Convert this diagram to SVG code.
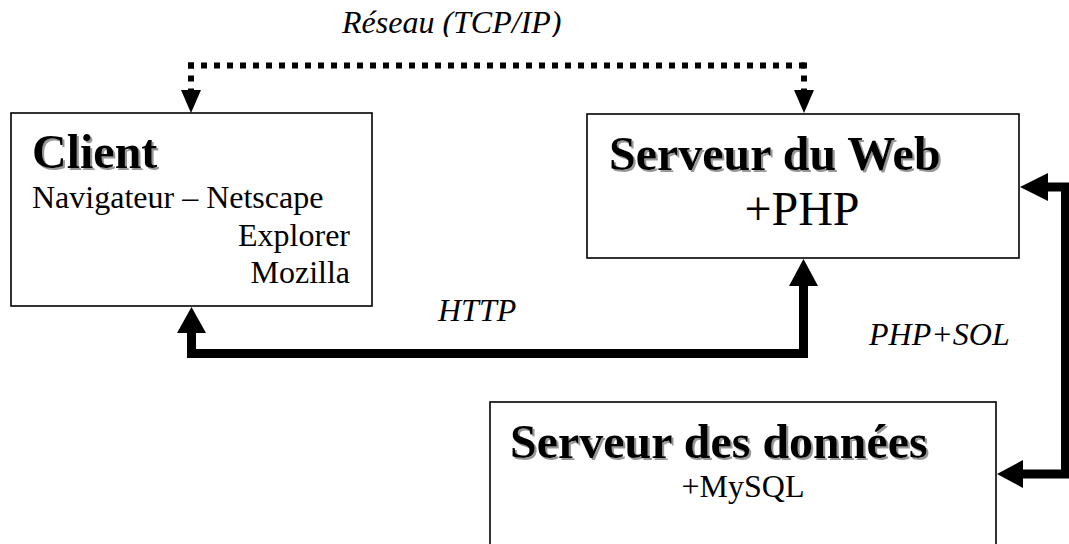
<svg xmlns="http://www.w3.org/2000/svg" width="1069" height="544" viewBox="0 0 1069 544">
<style>
  .box { fill: #ffffff; stroke: #000000; stroke-width: 1.6; }
  .title { font-family: "Liberation Serif", "Times New Roman", serif; font-weight: bold; font-size: 48px; fill: #000; }
  .body { font-family: "Liberation Serif", "Times New Roman", serif; font-size: 32px; fill: #000; }
  .big { font-family: "Liberation Serif", "Times New Roman", serif; font-size: 48px; fill: #000; }
  .lbl { font-family: "Liberation Serif", "Times New Roman", serif; font-style: italic; font-size: 32px; fill: #000; }
  .thick { fill: none; stroke: #000; stroke-width: 9; stroke-linejoin: miter; stroke-linecap: butt; }
  .dotted { fill: none; stroke: #000; stroke-width: 6; stroke-dasharray: 6 7; stroke-linecap: butt; }
  .head { fill: #000; stroke: none; }
</style>
<defs>
  <filter id="shadow" x="-5%" y="-20%" width="115%" height="150%">
    <feDropShadow dx="2" dy="2" stdDeviation="0.6" flood-color="#8c8c8c" flood-opacity="0.9"/>
  </filter>
  <clipPath id="topclip"><rect x="0" y="0" width="1069" height="37"/></clipPath>
</defs>
<rect x="0" y="0" width="1069" height="544" fill="#ffffff"/>

<g id="connectors">
  <!-- Réseau (TCP/IP) dotted link -->
  <g id="reseau">
    <path class="dotted" d="M188,65.5 H807"/>
    <path class="dotted" d="M191,62.5 V90"/>
    <path class="dotted" d="M804,62.5 V90"/>
    <polygon class="head" points="181,90 201,90 191,113"/>
    <polygon class="head" points="794,90 814,90 804,113"/>
  </g>
  <!-- HTTP link -->
  <g id="http">
    <path class="thick" d="M191.5,333 V353.5 H803.5 V286"/>
    <polygon class="head" points="177,333 206,333 191.5,307"/>
    <polygon class="head" points="789,286 818,286 803.5,259"/>
  </g>
  <!-- PHP+SQL link -->
  <g id="phpsql">
    <path class="thick" d="M1048,187 H1065.5 V474 H1023"/>
    <polygon class="head" points="1048,173 1048,201 1020,187"/>
    <polygon class="head" points="1023,460 1023,488 997,474"/>
  </g>
  <g id="labels">
    <text class="lbl" x="342" y="33" clip-path="url(#topclip)">Réseau (TCP/IP)</text>
    <text class="lbl" x="438" y="321">HTTP</text>
    <text class="lbl" x="869" y="345">PHP+SOL</text>
  </g>
</g>

<g id="client">
  <rect class="box" x="11" y="113" width="361" height="193"/>
  <text class="title" x="32" y="168" filter="url(#shadow)">Client</text>
  <text class="body" x="32" y="208">Navigateur – Netscape</text>
  <text class="body" x="350" y="246" text-anchor="end">Explorer</text>
  <text class="body" x="350" y="283" text-anchor="end">Mozilla</text>
</g>

<g id="serveur-web">
  <rect class="box" x="587" y="114" width="432" height="144"/>
  <text class="title" x="609" y="170" filter="url(#shadow)">Serveur du Web</text>
  <text class="big" x="802" y="225" text-anchor="middle">+PHP</text>
</g>

<g id="serveur-donnees">
  <rect class="box" x="490" y="402" width="506" height="200"/>
  <text class="title" x="510" y="458" filter="url(#shadow)">Serveur des données</text>
  <text class="body" x="743" y="497" text-anchor="middle">+MySQL</text>
</g>
</svg>
